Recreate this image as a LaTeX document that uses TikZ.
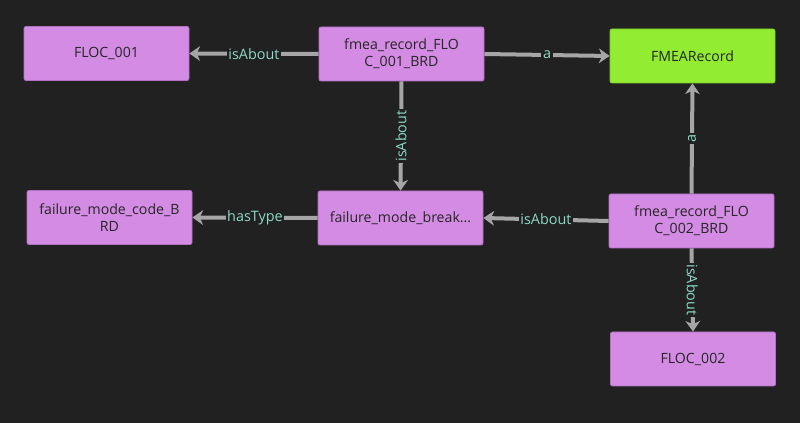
\documentclass[tikz,border=0pt]{standalone}
\usepackage{fontspec}
\setmainfont{Open Sans}
\usetikzlibrary{arrows.meta}
\definecolor{bg}{HTML}{212121}
\definecolor{nodefill}{HTML}{D38BE3}
\definecolor{nodeline}{HTML}{B071C2}
\definecolor{greenfill}{HTML}{91EC32}
\definecolor{greenline}{HTML}{7CCB2A}
\definecolor{edgecol}{HTML}{A6A6A6}
\definecolor{labcol}{HTML}{8ED8C6}
\definecolor{txt}{HTML}{262626}
\tikzset{
  ent/.style={draw=nodeline, line width=0.6pt, fill=nodefill, rounded corners=1.5pt,
    minimum width=123.75pt, minimum height=40.5pt, inner sep=0pt,
    align=center, text=txt, font=\fontsize{10.6}{12.6}\selectfont},
  cls/.style={ent, fill=greenfill, draw=greenline},
  rel/.style={draw=edgecol, line width=3pt,
    -{Stealth[length=8pt, width=11pt, inset=2.5pt]}},
  lab/.style={fill=bg, text=labcol, inner sep=1.2pt, font=\fontsize{10.8}{12}\selectfont}
}
\begin{document}
\begin{tikzpicture}[x=0.75pt, y=-0.75pt]
\fill[bg] (0,0) rectangle (800,423);
\useasboundingbox (0,0) rectangle (800,423);

\node[ent] (floc1) at (106.5,53.5) {FLOC\_001};
\node[ent] (fr1) at (401.5,54) {fmea\_record\_FLO\\C\_001\_BRD};
\node[cls] (fmea) at (692.5,56) {FMEARecord};
\node[ent] (code) at (109.5,217.5) {failure\_mode\_code\_B\\RD};
\node[ent] (fmb) at (400.5,218) {failure\_mode\_break...};
\node[ent] (fr2) at (691.5,221) {fmea\_record\_FLO\\C\_002\_BRD};
\node[ent] (floc2) at (693,359) {FLOC\_002};

\draw[rel] (fr1.west) -- node[lab] {isAbout} (floc1.east);
\draw[rel] (fr1.east) -- node[lab] {a} (fmea.west);
\draw[rel] (fr1.south) -- node[lab, rotate=90] {isAbout} (fmb.north);
\draw[rel] (fmb.west) -- node[lab] {hasType} (code.east);
\draw[rel] (fr2.west) -- node[lab] {isAbout} (fmb.east);
\draw[rel] (fr2.north) -- node[lab, rotate=90] {a} (fmea.south);
\draw[rel] (fr2.south) -- node[lab, rotate=-90] {isAbout} (floc2.north);
\end{tikzpicture}
\end{document}
